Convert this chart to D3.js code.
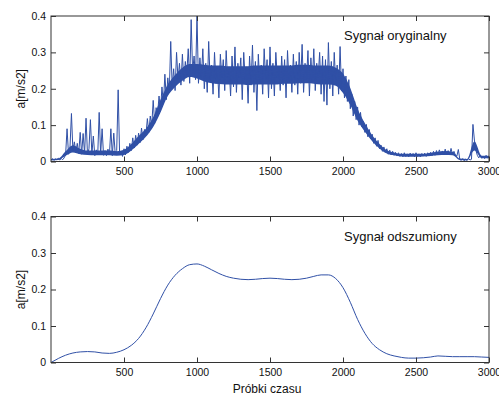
<!DOCTYPE html>
<html>
<head>
<meta charset="utf-8">
<script src="https://cdn.jsdelivr.net/npm/d3@7"></script>
<style>
  body { margin: 0; background: #fff; }
  svg { display: block; font-family: "Liberation Sans", Arial, sans-serif; }
  .tick text { font-size: 10.5px; fill: #111; }
  .tick line { stroke: #333; }
</style>
</head>
<body>
<svg id="chart" width="499" height="396"></svg>
<script>
// x ticks / y ticks
const xTicks = [500, 1000, 1500, 2000, 2500, 3000];
const yTicks = [0, 0.1, 0.2, 0.3, 0.4];

// original signal, read every 10 samples (0..3000)
const originalSamples = d3.range(0, 3001, 10);
const originalValues = [
  0.004,0.008,0.003,0.007,0.005,0.009,0.004,0.008,0.005,0.010,
  0.018,0.090,0.020,0.038,0.132,0.030,0.054,0.025,0.050,0.022,
  0.080,0.020,0.077,0.022,0.119,0.018,0.035,0.115,0.020,0.070,
  0.016,0.032,0.018,0.135,0.020,0.090,0.017,0.030,0.016,0.034,
  0.018,0.090,0.016,0.078,0.020,0.030,0.197,0.018,0.028,0.014,
  0.035,0.018,0.042,0.025,0.050,0.030,0.065,0.037,0.072,0.045,
  0.078,0.052,0.092,0.060,0.088,0.072,0.118,0.080,0.125,0.098,
  0.168,0.105,0.148,0.130,0.180,0.138,0.205,0.158,0.240,0.170,
  0.230,0.190,0.330,0.205,0.255,0.195,0.300,0.225,0.270,0.210,
  0.295,0.220,0.275,0.240,0.310,0.215,0.390,0.245,0.290,0.225,
  0.400,0.215,0.285,0.230,0.310,0.200,0.270,0.190,0.330,0.225,
  0.265,0.185,0.300,0.215,0.255,0.175,0.295,0.230,0.280,0.195,
  0.305,0.220,0.260,0.180,0.290,0.205,0.315,0.190,0.270,0.230,
  0.285,0.170,0.300,0.225,0.260,0.160,0.290,0.210,0.320,0.190,
  0.275,0.140,0.295,0.215,0.265,0.185,0.310,0.225,0.280,0.175,
  0.315,0.200,0.270,0.180,0.300,0.230,0.260,0.195,0.290,0.210,
  0.280,0.175,0.305,0.220,0.265,0.190,0.295,0.210,0.275,0.185,
  0.300,0.215,0.322,0.190,0.270,0.225,0.305,0.180,0.285,0.220,
  0.310,0.195,0.270,0.230,0.300,0.185,0.290,0.165,0.280,0.155,
  0.327,0.200,0.275,0.180,0.300,0.215,0.265,0.185,0.316,0.195,
  0.255,0.175,0.235,0.165,0.225,0.145,0.185,0.125,0.165,0.115,
  0.150,0.100,0.135,0.095,0.110,0.080,0.102,0.068,0.088,0.062,
  0.075,0.050,0.065,0.042,0.058,0.035,0.045,0.028,0.040,0.025,
  0.035,0.020,0.031,0.018,0.028,0.017,0.025,0.015,0.024,0.014,
  0.022,0.013,0.024,0.014,0.021,0.013,0.023,0.015,0.022,0.013,
  0.024,0.014,0.021,0.013,0.022,0.015,0.023,0.014,0.024,0.015,
  0.025,0.016,0.028,0.017,0.030,0.018,0.032,0.020,0.029,0.018,
  0.034,0.020,0.030,0.018,0.036,0.019,0.028,0.017,0.015,0.033,
  0.006,0.003,0.008,0.002,0.007,0.003,0.008,0.004,0.006,0.102,
  0.059,0.031,0.017,0.010,0.016,0.009,0.015,0.008,0.017,0.010,
  0.014
];

// dense core of the noisy band (where the trace overlaps), every 50 samples
const coreSamples = d3.range(0, 3001, 50);
const coreLow = [
  0.003,0.004,0.016,0.025,0.020,0.018,0.017,0.017,0.017,0.016,
  0.018,0.030,0.048,0.068,0.095,0.135,0.180,0.205,0.222,0.232,
  0.228,0.220,0.215,0.213,0.212,0.212,0.212,0.210,0.212,0.212,
  0.212,0.212,0.214,0.214,0.215,0.215,0.214,0.212,0.212,0.208,
  0.188,0.155,0.112,0.082,0.056,0.036,0.022,0.017,0.014,0.013,
  0.013,0.014,0.015,0.017,0.018,0.017,0.004,0.003,0.030,0.009,
  0.009
];
const coreHigh = [
  0.007,0.008,0.028,0.045,0.035,0.030,0.030,0.030,0.030,0.028,
  0.032,0.048,0.070,0.090,0.122,0.170,0.212,0.238,0.258,0.268,
  0.268,0.266,0.264,0.264,0.262,0.262,0.262,0.262,0.264,0.264,
  0.264,0.264,0.264,0.264,0.266,0.266,0.264,0.264,0.264,0.258,
  0.242,0.202,0.145,0.105,0.072,0.048,0.031,0.025,0.021,0.021,
  0.021,0.021,0.024,0.027,0.029,0.027,0.008,0.007,0.055,0.016,
  0.016
];

// denoised signal, read every 50 samples
const denoisedSamples = d3.range(0, 3001, 50);
const denoisedValues = [
  0.000,0.011,0.020,0.026,0.029,0.030,0.029,0.026,0.025,0.028,
  0.035,0.047,0.066,0.095,0.133,0.175,0.212,0.239,0.257,0.268,
  0.270,0.264,0.254,0.244,0.236,0.231,0.228,0.227,0.228,0.230,
  0.231,0.230,0.228,0.227,0.228,0.231,0.236,0.240,0.240,0.230,
  0.205,0.165,0.118,0.080,0.052,0.035,0.024,0.018,0.014,0.012,
  0.012,0.013,0.015,0.018,0.017,0.016,0.016,0.016,0.016,0.015,
  0.014
];

const lineColor = "#3050a6";
const svg = d3.select("#chart");

const left = 51, right = 489;
const panels = [
  { top: 16, bottom: 161.5, title: "Sygnał oryginalny", xs: originalSamples, ys: originalValues, curve: d3.curveLinear, core: true },
  { top: 216.5, bottom: 362.5, title: "Sygnał odszumiony", xs: denoisedSamples, ys: denoisedValues, curve: d3.curveMonotoneX, core: false }
];

const x = d3.scaleLinear().domain([0, 3000]).range([left, right]);

panels.forEach((p, k) => {
  const y = d3.scaleLinear().domain([0, 0.4]).range([p.bottom, p.top]);
  const g = svg.append("g");

  g.append("clipPath").attr("id", "clip" + k)
    .append("rect").attr("x", left).attr("y", p.top - 1)
    .attr("width", right - left).attr("height", p.bottom - p.top + 1);

  if (p.core) {
    g.append("path")
      .datum(coreSamples.map((s, i) => [s, coreLow[i], coreHigh[i]]))
      .attr("clip-path", `url(#clip${k})`)
      .attr("fill", lineColor)
      .attr("d", d3.area().x(d => x(d[0])).y0(d => y(d[1])).y1(d => y(d[2])).curve(d3.curveMonotoneX));
  }

  const pts = p.xs.map((s, i) => [s, p.ys[i]]);
  g.append("path")
    .datum(pts)
    .attr("clip-path", `url(#clip${k})`)
    .attr("fill", "none")
    .attr("stroke", lineColor)
    .attr("stroke-width", 1)
    .attr("d", d3.line().x(d => x(d[0])).y(d => y(d[1])).curve(p.curve));

  // axes with inward ticks
  const bx = g.append("g").attr("transform", `translate(0,${p.bottom})`)
    .call(d3.axisBottom(x).tickValues(xTicks).tickSizeInner(-5).tickSizeOuter(0).tickPadding(6).tickFormat(d3.format("d")));
  const tx = g.append("g").attr("transform", `translate(0,${p.top})`)
    .call(d3.axisTop(x).tickValues(xTicks).tickSizeInner(-5).tickSizeOuter(0).tickFormat(""));
  const ly = g.append("g").attr("transform", `translate(${left},0)`)
    .call(d3.axisLeft(y).tickValues(yTicks).tickSizeInner(-5).tickSizeOuter(0).tickPadding(5).tickFormat(d => d === 0 ? "0" : d3.format(".1f")(d)));
  const ry = g.append("g").attr("transform", `translate(${right},0)`)
    .call(d3.axisRight(y).tickValues(yTicks).tickSizeInner(-5).tickSizeOuter(0).tickFormat(""));
  [bx, tx, ly, ry].forEach(a => a.select(".domain").remove());

  g.append("rect")
    .attr("x", left).attr("y", p.top)
    .attr("width", right - left).attr("height", p.bottom - p.top)
    .attr("fill", "none").attr("stroke", "#333").attr("stroke-width", 1);

  g.append("text")
    .attr("x", 344).attr("y", p.top + 24)
    .attr("font-size", 13).attr("fill", "#111")
    .text(p.title);

  g.append("text")
    .attr("transform", `translate(25,${(p.top + p.bottom) / 2}) rotate(-90)`)
    .attr("text-anchor", "middle")
    .attr("font-size", 12).attr("fill", "#111")
    .text("a[m/s2]");
});

svg.append("text")
  .attr("x", 267).attr("y", 393)
  .attr("text-anchor", "middle")
  .attr("font-size", 12).attr("fill", "#111")
  .text("Próbki czasu");
</script>
</body>
</html>
